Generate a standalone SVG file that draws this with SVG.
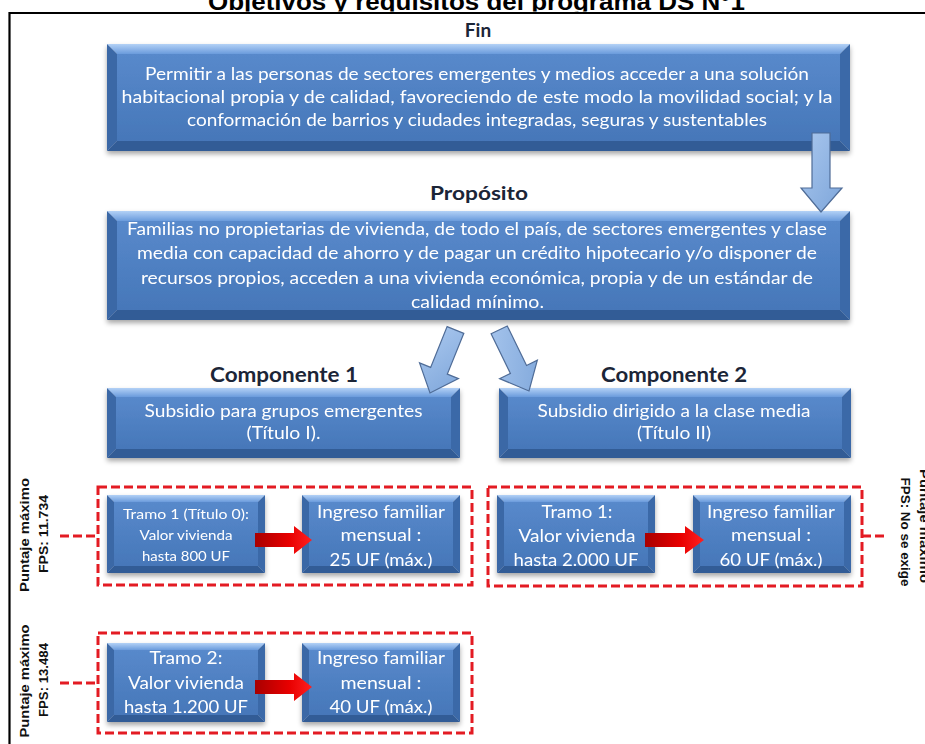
<svg xmlns="http://www.w3.org/2000/svg" width="925" height="744" viewBox="0 0 925 744">
<defs>
<style>
.lbl{font-family:Lato,"Liberation Sans",sans-serif;font-weight:bold;fill:#1b2537;text-anchor:middle}
.bt{font-family:Lato,"Liberation Sans",sans-serif;fill:#ffffff;text-anchor:middle}
.side{font-family:"Liberation Sans",Arial,sans-serif;font-weight:bold;fill:#111111;font-size:13px;text-anchor:middle}
.dash{fill:none;stroke:#e31b23;stroke-width:3;stroke-dasharray:9 4}
.face{fill:url(#gFace)}
.btop{fill:url(#gTop)}
.bbot{fill:#305b96}
.blft{fill:#3a67a6}
.brgt{fill:#3b69a8}
.barrow{fill:url(#gBlue);stroke:#4f6c97;stroke-width:1.2}
.rarrow{fill:url(#gRed)}
.box{filter:url(#shadow)}
</style>
<linearGradient id="gFace" x1="0" y1="0" x2="0" y2="1">
<stop offset="0" stop-color="#5889cb"/>
<stop offset="1" stop-color="#4677b9"/>
</linearGradient>
<linearGradient id="gTop" x1="0" y1="0" x2="0" y2="1">
<stop offset="0" stop-color="#b3d1f6"/>
<stop offset="1" stop-color="#6a9bdc"/>
</linearGradient>
<linearGradient id="gBlue" x1="0" y1="0" x2="1" y2="1">
<stop offset="0" stop-color="#a9c7ee"/>
<stop offset="1" stop-color="#7ea6da"/>
</linearGradient>
<linearGradient id="gRed" x1="0" y1="0" x2="1" y2="0">
<stop offset="0" stop-color="#a80000"/>
<stop offset="0.6" stop-color="#e80000"/>
<stop offset="1" stop-color="#ff2020"/>
</linearGradient>
<filter id="shadow" x="-5%" y="-10%" width="110%" height="130%">
<feDropShadow dx="0" dy="3" stdDeviation="2.5" flood-color="#000000" flood-opacity="0.35"/>
</filter>
<clipPath id="titleClip"><rect x="0" y="0" width="925" height="11.5"/></clipPath>
</defs>
<rect x="0" y="0" width="925" height="744" fill="#ffffff"/>

<g id="title" clip-path="url(#titleClip)">
<text x="476.5" y="10" font-family="'Liberation Sans',Arial,sans-serif" font-weight="bold" font-size="23" fill="#000" text-anchor="middle" textLength="537" lengthAdjust="spacingAndGlyphs">Objetivos y requisitos del programa DS N°1</text>
</g>

<g id="frame" fill="none" stroke="#000" stroke-width="2.2">
<path d="M9.5 744 V13 H925"/>
</g>

<g id="labels">
<text class="lbl" x="478" y="37" font-size="19">Fin</text>
<text class="lbl" x="479" y="200" font-size="19" textLength="98" lengthAdjust="spacingAndGlyphs">Propósito</text>
<text class="lbl" x="284" y="382" font-size="20" textLength="148" lengthAdjust="spacingAndGlyphs">Componente 1</text>
<text class="lbl" x="674" y="382" font-size="20" textLength="146" lengthAdjust="spacingAndGlyphs">Componente 2</text>
</g>

<g id="fin" class="box">
<rect class="face" x="117" y="54" width="723" height="87"/>
<polygon class="btop" points="107,44 850,44 840,54 117,54"/>
<polygon class="bbot" points="107,151 850,151 840,141 117,141"/>
<polygon class="blft" points="107,44 117,54 117,141 107,151"/>
<polygon class="brgt" points="850,44 840,54 840,141 850,151"/>
<text class="bt" font-size="17" x="477" y="80" textLength="664" lengthAdjust="spacingAndGlyphs">Permitir a las personas de sectores emergentes y medios acceder a una solución</text>
<text class="bt" font-size="17" x="477" y="103" textLength="711" lengthAdjust="spacingAndGlyphs">habitacional propia y de calidad, favoreciendo de este modo la movilidad social; y la</text>
<text class="bt" font-size="17" x="477" y="126" textLength="580" lengthAdjust="spacingAndGlyphs">conformación de barrios y ciudades integradas, seguras y sustentables</text>
</g>

<g id="proposito" class="box">
<rect class="face" x="117" y="221" width="723" height="89"/>
<polygon class="btop" points="107,211 850,211 840,221 117,221"/>
<polygon class="bbot" points="107,320 850,320 840,310 117,310"/>
<polygon class="blft" points="107,211 117,221 117,310 107,320"/>
<polygon class="brgt" points="850,211 840,221 840,310 850,320"/>
<text class="bt" font-size="17" x="477" y="235" textLength="700" lengthAdjust="spacingAndGlyphs">Familias no propietarias de vivienda, de todo el país, de sectores emergentes y clase</text>
<text class="bt" font-size="17" x="477" y="259" textLength="680" lengthAdjust="spacingAndGlyphs">media con capacidad de ahorro y de pagar un crédito hipotecario y/o disponer de</text>
<text class="bt" font-size="17" x="477" y="284" textLength="672" lengthAdjust="spacingAndGlyphs">recursos propios, acceden  a una vivienda económica, propia y de un estándar de</text>
<text class="bt" font-size="17" x="477.5" y="308" textLength="133" lengthAdjust="spacingAndGlyphs">calidad mínimo.</text>
</g>

<g id="componente1" class="box">
<rect class="face" x="116" y="397" width="335" height="52"/>
<polygon class="btop" points="107,388 460,388 451,397 116,397"/>
<polygon class="bbot" points="107,458 460,458 451,449 116,449"/>
<polygon class="blft" points="107,388 116,397 116,449 107,458"/>
<polygon class="brgt" points="460,388 451,397 451,449 460,458"/>
<text class="bt" font-size="17" x="283.5" y="417" textLength="278" lengthAdjust="spacingAndGlyphs">Subsidio para grupos emergentes</text>
<text class="bt" font-size="17" x="283.5" y="439" textLength="74" lengthAdjust="spacingAndGlyphs">(Título I).</text>
</g>

<g id="componente2" class="box">
<rect class="face" x="508" y="397" width="334" height="52"/>
<polygon class="btop" points="499,388 851,388 842,397 508,397"/>
<polygon class="bbot" points="499,458 851,458 842,449 508,449"/>
<polygon class="blft" points="499,388 508,397 508,449 499,458"/>
<polygon class="brgt" points="851,388 842,397 842,449 851,458"/>
<text class="bt" font-size="17" x="674" y="417" textLength="273" lengthAdjust="spacingAndGlyphs">Subsidio dirigido a la clase media</text>
<text class="bt" font-size="17" x="674" y="439" textLength="74" lengthAdjust="spacingAndGlyphs">(Título II)</text>
</g>

<g id="grupo1">
<rect class="dash" x="98" y="487" width="374" height="98"/>
</g>
<g id="grupo2">
<rect class="dash" x="98" y="633" width="374" height="100"/>
</g>
<g id="grupo3">
<rect class="dash" x="488" y="487" width="374" height="99"/>
</g>

<g id="tramo1-t0" class="box">
<rect class="face" x="114" y="502" width="144" height="64"/>
<polygon class="btop" points="107,495 265,495 258,502 114,502"/>
<polygon class="bbot" points="107,573 265,573 258,566 114,566"/>
<polygon class="blft" points="107,495 114,502 114,566 107,573"/>
<polygon class="brgt" points="265,495 258,502 258,566 265,573"/>
<text class="bt" font-size="14" x="186" y="519" textLength="126" lengthAdjust="spacingAndGlyphs">Tramo 1 (Título 0):</text>
<text class="bt" font-size="14" x="186" y="540" textLength="93" lengthAdjust="spacingAndGlyphs">Valor vivienda</text>
<text class="bt" font-size="14" x="186" y="561" textLength="88" lengthAdjust="spacingAndGlyphs">hasta 800 UF</text>
</g>

<g id="ingreso25" class="box">
<rect class="face" x="309" y="502" width="144" height="64"/>
<polygon class="btop" points="302,495 460,495 453,502 309,502"/>
<polygon class="bbot" points="302,573 460,573 453,566 309,566"/>
<polygon class="blft" points="302,495 309,502 309,566 302,573"/>
<polygon class="brgt" points="460,495 453,502 453,566 460,573"/>
<text class="bt" font-size="18" x="381" y="518" textLength="128" lengthAdjust="spacingAndGlyphs">Ingreso familiar</text>
<text class="bt" font-size="18" x="381" y="541" textLength="81" lengthAdjust="spacingAndGlyphs">mensual :</text>
<text class="bt" font-size="18" x="381" y="566" textLength="103" lengthAdjust="spacingAndGlyphs">25 UF (máx.)</text>
</g>

<g id="tramo2" class="box">
<rect class="face" x="114" y="650" width="144" height="65"/>
<polygon class="btop" points="107,643 265,643 258,650 114,650"/>
<polygon class="bbot" points="107,722 265,722 258,715 114,715"/>
<polygon class="blft" points="107,643 114,650 114,715 107,722"/>
<polygon class="brgt" points="265,643 258,650 258,715 265,722"/>
<text class="bt" font-size="18" x="186" y="664" textLength="73" lengthAdjust="spacingAndGlyphs">Tramo 2:</text>
<text class="bt" font-size="18" x="186" y="689" textLength="116" lengthAdjust="spacingAndGlyphs">Valor vivienda</text>
<text class="bt" font-size="18" x="186" y="713" textLength="124" lengthAdjust="spacingAndGlyphs">hasta 1.200 UF</text>
</g>

<g id="ingreso40" class="box">
<rect class="face" x="309" y="650" width="144" height="65"/>
<polygon class="btop" points="302,643 460,643 453,650 309,650"/>
<polygon class="bbot" points="302,722 460,722 453,715 309,715"/>
<polygon class="blft" points="302,643 309,650 309,715 302,722"/>
<polygon class="brgt" points="460,643 453,650 453,715 460,722"/>
<text class="bt" font-size="18" x="381" y="664" textLength="128" lengthAdjust="spacingAndGlyphs">Ingreso familiar</text>
<text class="bt" font-size="18" x="381" y="689" textLength="81" lengthAdjust="spacingAndGlyphs">mensual :</text>
<text class="bt" font-size="18" x="381" y="713" textLength="103" lengthAdjust="spacingAndGlyphs">40 UF (máx.)</text>
</g>

<g id="tramo1-t2" class="box">
<rect class="face" x="504" y="502" width="144" height="64"/>
<polygon class="btop" points="497,495 655,495 648,502 504,502"/>
<polygon class="bbot" points="497,573 655,573 648,566 504,566"/>
<polygon class="blft" points="497,495 504,502 504,566 497,573"/>
<polygon class="brgt" points="655,495 648,502 648,566 655,573"/>
<text class="bt" font-size="18" x="577" y="518" textLength="71" lengthAdjust="spacingAndGlyphs">Tramo 1:</text>
<text class="bt" font-size="18" x="577" y="542" textLength="117" lengthAdjust="spacingAndGlyphs">Valor vivienda</text>
<text class="bt" font-size="18" x="576" y="566" textLength="125" lengthAdjust="spacingAndGlyphs">hasta 2.000 UF</text>
</g>

<g id="ingreso60" class="box">
<rect class="face" x="700" y="502" width="144" height="64"/>
<polygon class="btop" points="693,495 851,495 844,502 700,502"/>
<polygon class="bbot" points="693,573 851,573 844,566 700,566"/>
<polygon class="blft" points="693,495 700,502 700,566 693,573"/>
<polygon class="brgt" points="851,495 844,502 844,566 851,573"/>
<text class="bt" font-size="18" x="771" y="518" textLength="128" lengthAdjust="spacingAndGlyphs">Ingreso familiar</text>
<text class="bt" font-size="18" x="771" y="541" textLength="80" lengthAdjust="spacingAndGlyphs">mensual :</text>
<text class="bt" font-size="18" x="771" y="566" textLength="103" lengthAdjust="spacingAndGlyphs">60 UF (máx.)</text>
</g>

<g id="side-labels">
<text class="side" transform="translate(29,535) rotate(-90)" textLength="114" lengthAdjust="spacingAndGlyphs">Puntaje máximo</text>
<text class="side" transform="translate(48,534) rotate(-90)" textLength="78" lengthAdjust="spacingAndGlyphs">FPS: 11.734</text>
<text class="side" transform="translate(29,681) rotate(-90)" textLength="113" lengthAdjust="spacingAndGlyphs">Puntaje máximo</text>
<text class="side" transform="translate(48,680) rotate(-90)" textLength="74" lengthAdjust="spacingAndGlyphs">FPS: 13.484</text>
<text class="side" transform="translate(901,532) rotate(90)" textLength="109" lengthAdjust="spacingAndGlyphs">FPS: No se exige</text>
<text class="side" transform="translate(920,526) rotate(90)" textLength="114" lengthAdjust="spacingAndGlyphs">Puntaje máximo</text>
</g>

<g id="connectors">
<polygon class="barrow" points="812,133 830,133 830,188 842,188 821,212 801,188 812,188"/>
<polygon class="barrow" transform="translate(430,393) rotate(22)" points="-9,-68 9,-68 9,-24 21,-24 0,0 -21,-24 -9,-24"/>
<polygon class="barrow" transform="translate(529,391) rotate(-26)" points="-9,-68 9,-68 9,-24 21,-24 0,0 -21,-24 -9,-24"/>
<polygon class="rarrow" points="255,533 294,533 294,526 312,540 294,554 294,547 255,547"/>
<polygon class="rarrow" points="255,680 294,680 294,673 312,687 294,701 294,694 255,694"/>
<polygon class="rarrow" points="645,533 685,533 685,526 704,540 685,554 685,547 645,547"/>
<line class="dash" x1="60" y1="536" x2="98" y2="536"/>
<line class="dash" x1="60" y1="683" x2="98" y2="683"/>
<line class="dash" x1="862" y1="536" x2="888" y2="536"/>
</g>
</svg>
